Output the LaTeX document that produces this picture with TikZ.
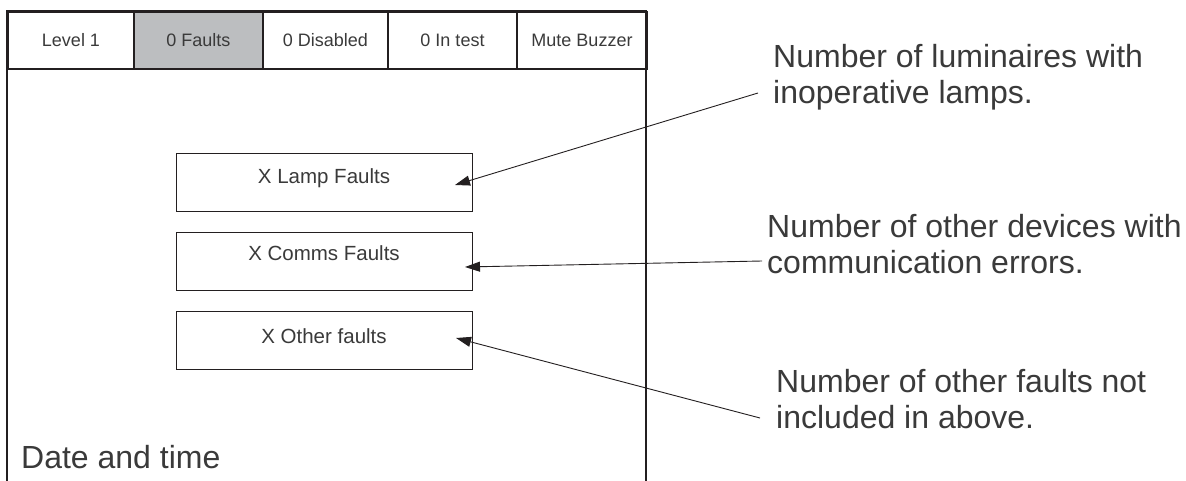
\documentclass[tikz,border=0pt]{standalone}
\usepackage{fontspec}
\setmainfont{Liberation Sans}
\usetikzlibrary{arrows.meta}
\definecolor{ink}{HTML}{231F20}
\definecolor{txt}{HTML}{3A3A3A}
\definecolor{tabgray}{HTML}{BCBEC0}
\begin{document}
\begin{tikzpicture}[x=1pt,y=-1pt,
  tab/.style={draw=ink, line width=2pt, anchor=north west, inner sep=0pt,
    minimum height=57pt, text=txt, font=\fontsize{18}{20}\selectfont},
  faultbox/.style={draw=ink, line width=1.1pt, anchor=north west, inner sep=0pt,
    minimum width=296pt, minimum height=58pt},
  boxtext/.style={text=txt, inner sep=0pt, font=\fontsize{20.5}{24}\selectfont},
  % the base anchor of a two-line note sits on its last line
  note/.style={text=txt, inner sep=0pt, anchor=base west, align=left,
    font=\fontsize{32}{36}\selectfont},
  arr/.style={draw=ink, line width=0.9pt,
    -{Triangle[length=15pt,width=10pt]}}]
\useasboundingbox (0,0) rectangle (1186,481);

% outer frame of the display, open at the bottom
\draw[ink, line width=2.3pt] (7,481) -- (7,11) -- (646,11) -- (646,481);

% tab row
\node[tab, minimum width=126pt] (level) at (7,11) {Level 1};
\node[tab, minimum width=129pt, fill=tabgray] (faults) at (133,11) {0 Faults};
\node[tab, minimum width=125pt] (disabled) at (262,11) {0 Disabled};
\node[tab, minimum width=129pt] (intest) at (387,11) {0 In test};
\node[tab, minimum width=130pt] (mute) at (516,11) {Mute Buzzer};

% fault counters
\node[faultbox] (lampbox) at (176,153) {};
\node[faultbox] (commsbox) at (176,232) {};
\node[faultbox] (otherbox) at (176,311) {};
\node[boxtext] (lamptext) at (324,178) {X Lamp Faults};
\node[boxtext] (commstext) at (324,253) {X Comms Faults};
\node[boxtext] (othertext) at (324,336) {X Other faults};

\node[text=txt, inner sep=0pt, anchor=base west, font=\fontsize{32}{36}\selectfont]
  (datetime) at (21,468) {Date and time};

% explanatory notes
\node[note] (lampnote) at (773,104) {Number of luminaires with\\inoperative lamps.};
\node[note] (commsnote) at (767,273) {Number of other devices with\\communication errors.};
\node[note] (othernote) at (776,428) {Number of other faults not\\included in above.};

% leader lines
\coordinate (lampfrom) at (758,93);
\coordinate (lamptip) at (455,185);
\coordinate (commsfrom) at (762,261);
\coordinate (commstip) at (465,267);
\coordinate (otherfrom) at (760,418);
\coordinate (othertip) at (456,338);
\draw[arr] (lampfrom) -- (lamptip);
\draw[arr] (commsfrom) -- (commstip);
\draw[arr] (otherfrom) -- (othertip);
\end{tikzpicture}
\end{document}
